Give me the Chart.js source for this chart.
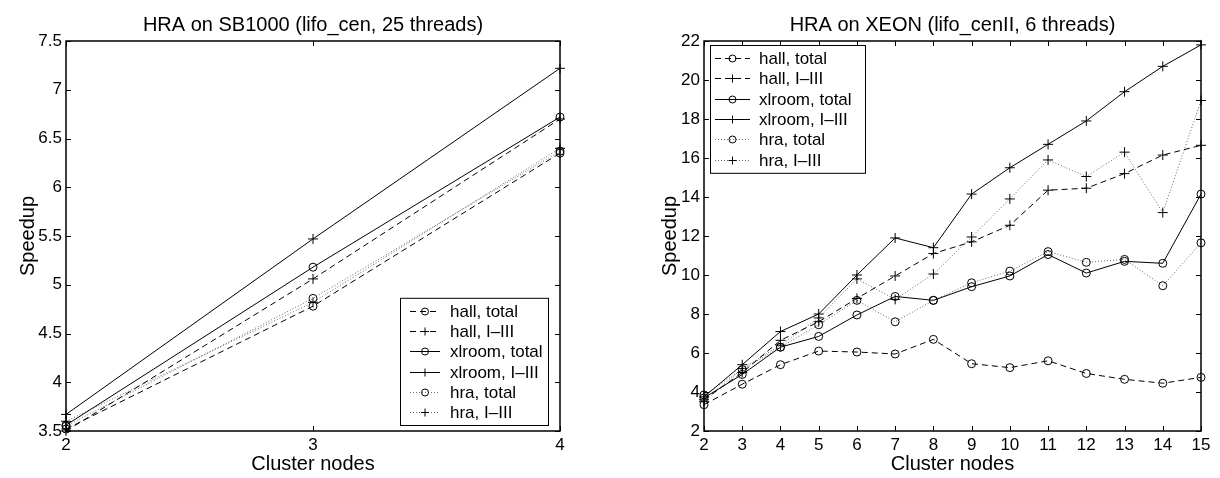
<!DOCTYPE html>
<html>
<head>
<meta charset="utf-8">
<script src="https://cdn.jsdelivr.net/npm/chart.js@4/dist/chart.umd.min.js"></script>
<style>
  body { margin: 0; background: #fff; }
  #wrap { position: relative; width: 1220px; height: 478px; }
  canvas { position: absolute; top: 0; }
</style>
</head>
<body>
<div id="wrap">
  <canvas id="sb" width="620" height="478" style="left:0;width:620px;height:478px"></canvas>
  <canvas id="xeon" width="600" height="478" style="left:620px;width:600px;height:478px"></canvas>
</div>
<script>
// legend labels, same order in both plots
const seriesNames = ['hall, total', 'hall, I\u2013III', 'xlroom, total', 'xlroom, I\u2013III', 'hra, total', 'hra, I\u2013III'];

// SB1000, 25 threads
const sbNodes = [2, 3, 4];
const sbHallTotal = [3.52, 4.78, 6.35];
const sbHallI = [3.50, 5.06, 6.70];
const sbXlTotal = [3.56, 5.18, 6.72];
const sbXlI = [3.67, 5.47, 7.22];
const sbHraTotal = [3.55, 4.86, 6.37];
const sbHraI = [3.60, 4.82, 6.40];
const sbYTicks = [3.5, 7.5, 0.5]; // min, max, step

// XEON, 6 threads
const xeonNodes = [2, 3, 4, 5, 6, 7, 8, 9, 10, 11, 12, 13, 14, 15];
const xeonHallTotal = [3.35, 4.4, 5.4, 6.1, 6.05, 5.95, 6.7, 5.45, 5.25, 5.6, 4.95, 4.65, 4.45, 4.75];
const xeonHallI = [3.6, 5.0, 6.65, 7.6, 8.8, 9.95, 11.1, 11.7, 12.55, 14.35, 14.45, 15.2, 16.15, 16.65];
const xeonXlTotal = [3.7, 4.9, 6.3, 6.85, 7.95, 8.9, 8.7, 9.4, 9.95, 11.05, 10.1, 10.7, 10.6, 14.15];
const xeonXlI = [3.75, 5.4, 7.1, 8.0, 10.0, 11.9, 11.4, 14.15, 15.5, 16.7, 17.9, 19.4, 20.7, 21.8];
const xeonHraTotal = [3.85, 5.15, 6.3, 7.45, 8.7, 7.6, 8.7, 9.6, 10.2, 11.2, 10.65, 10.8, 9.45, 11.65];
const xeonHraI = [3.5, 5.2, 6.4, 7.8, 9.8, 8.75, 10.05, 11.95, 13.9, 15.9, 15.05, 16.3, 13.2, 18.95];
const xeonYTicks = [2, 22, 2];

const FONT = "'Liberation Sans', Arial, Helvetica, sans-serif";
Chart.defaults.font.family = FONT;
Chart.defaults.color = '#000';

// line style per series: dashed / solid / dotted, circle or plus marker
const looks = [
    { dash: [6, 4], color: '#000', point: 'circle' },
    { dash: [6, 4], color: '#000', point: 'cross' },
    { dash: [], color: '#000', point: 'circle' },
    { dash: [], color: '#000', point: 'cross' },
    { dash: [1, 2], color: '#666', point: 'circle' },
    { dash: [1, 2], color: '#666', point: 'cross' }
];

function makeDatasets(nodes, lists) {
    return lists.map((vals, i) => ({
        label: seriesNames[i],
        data: vals.map((v, k) => ({ x: nodes[k], y: v })),
        borderColor: looks[i].color,
        borderDash: looks[i].dash,
        borderWidth: 1,
        pointStyle: looks[i].point,
        pointRadius: looks[i].point === 'cross' ? 5 : 4,
        pointBorderColor: '#000',
        pointBackgroundColor: 'rgba(0,0,0,0)',
        pointBorderWidth: 1,
        tension: 0,
        fill: false,
        clip: false
    }));
}

// matlab-like frame with inward ticks on all four sides
const frameTicks = {
    id: 'frameTicks',
    afterDatasetsDraw(chart) {
        const { ctx, chartArea: a, scales } = chart;
        const len = 5;
        ctx.save();
        ctx.strokeStyle = '#000';
        ctx.lineWidth = 1;
        ctx.setLineDash([]);
        ctx.beginPath();
        scales.x.ticks.forEach(t => {
            const px = Math.round(scales.x.getPixelForValue(t.value)) + 0.5;
            ctx.moveTo(px, a.bottom); ctx.lineTo(px, a.bottom - len);
            ctx.moveTo(px, a.top); ctx.lineTo(px, a.top + len);
        });
        scales.y.ticks.forEach(t => {
            const py = Math.round(scales.y.getPixelForValue(t.value)) + 0.5;
            ctx.moveTo(a.left, py); ctx.lineTo(a.left + len, py);
            ctx.moveTo(a.right, py); ctx.lineTo(a.right - len, py);
        });
        ctx.stroke();
        ctx.lineWidth = 1.5;
        ctx.strokeRect(a.left, a.top, a.right - a.left, a.bottom - a.top);
        ctx.restore();
    }
};

// boxed legend inside the plot, line sample + marker like matlab
const boxLegend = {
    id: 'boxLegend',
    afterDraw(chart, args, opts) {
        const { ctx, chartArea: a } = chart;
        const w = opts.width, h = opts.rowH * chart.data.datasets.length + 6;
        const x0 = opts.anchor === 'tl' ? a.left + opts.dx : a.right - opts.dx - w;
        const y0 = opts.anchor === 'tl' ? a.top + opts.dy : a.bottom - opts.dy - h;
        ctx.save();
        ctx.fillStyle = '#fff';
        ctx.fillRect(x0, y0, w, h);
        ctx.strokeStyle = '#000';
        ctx.lineWidth = 1;
        ctx.strokeRect(x0 + 0.5, y0 + 0.5, w, h);
        ctx.textBaseline = 'middle';
        chart.data.datasets.forEach((ds, i) => {
            const cy = Math.round(y0 + 3 + opts.rowH * (i + 0.5)) + 0.5;
            const sx = x0 + opts.sampleX;
            ctx.strokeStyle = ds.borderColor;
            ctx.lineWidth = 1;
            ctx.setLineDash(ds.borderDash);
            ctx.beginPath();
            ctx.moveTo(sx, cy); ctx.lineTo(sx + opts.sampleW, cy);
            ctx.stroke();
            ctx.setLineDash([]);
            ctx.strokeStyle = '#000';
            ctx.fillStyle = 'rgba(0,0,0,0)';
            Chart.helpers.drawPoint(ctx, {
                pointStyle: ds.pointStyle, radius: ds.pointStyle === 'cross' ? 4 : 3.5,
                borderWidth: 1
            }, sx + opts.sampleW / 2, cy);
            ctx.fillStyle = '#000';
            ctx.font = '17px ' + FONT;
            ctx.fillText(ds.label, x0 + opts.textX, cy + 1);
        });
        ctx.restore();
    }
};

function makeChart(id, nodes, lists, yTicks, title, layout, legendOpts) {
    const ctx = document.getElementById(id).getContext('2d');
    return new Chart(ctx, {
        type: 'line',
        data: { datasets: makeDatasets(nodes, lists) },
        options: {
            responsive: false,
            animation: false,
            layout: { padding: layout.padding },
            plugins: {
                legend: { display: false },
                tooltip: { enabled: false },
                title: {
                    display: true, text: title, fullSize: false,
                    font: { size: 20, weight: 'normal' }, color: '#000',
                    padding: { top: 7, bottom: 4 }
                },
                boxLegend: legendOpts
            },
            scales: {
                x: {
                    type: 'linear',
                    min: nodes[0], max: nodes[nodes.length - 1],
                    ticks: { stepSize: 1, font: { size: 17 }, padding: 4, color: '#000' },
                    grid: { display: false, drawTicks: false },
                    border: { display: false },
                    title: { display: true, text: 'Cluster nodes', font: { size: 20 }, padding: 0, color: '#000' },
                    afterFit(s) { s.height = layout.xH; }
                },
                y: {
                    min: yTicks[0], max: yTicks[1],
                    ticks: {
                        stepSize: yTicks[2], font: { size: 17 }, padding: 4, color: '#000',
                        callback: v => String(+v.toFixed(2))
                    },
                    grid: { display: false, drawTicks: false },
                    border: { display: false },
                    title: { display: true, text: 'Speedup', font: { size: 20 }, padding: 0, color: '#000' },
                    afterFit(s) { s.width = layout.yW; }
                }
            }
        },
        plugins: [frameTicks, boxLegend]
    });
}

makeChart('sb', sbNodes, [sbHallTotal, sbHallI, sbXlTotal, sbXlI, sbHraTotal, sbHraI], sbYTicks,
    'HRA on SB1000 (lifo_cen, 25 threads)',
    { padding: { left: 16, right: 60, top: 6, bottom: 2 }, yW: 50, xH: 45 },
    { anchor: 'br', dx: 12, dy: 6, width: 148, rowH: 20.2, sampleX: 10, sampleW: 30, textX: 50 });

makeChart('xeon', xeonNodes, [xeonHallTotal, xeonHallI, xeonXlTotal, xeonXlI, xeonHraTotal, xeonHraI], xeonYTicks,
    'HRA on XEON (lifo_cenII, 6 threads)',
    { padding: { left: 38, right: 19, top: 6, bottom: 2 }, yW: 46, xH: 45 },
    { anchor: 'tl', dx: 6, dy: 4, width: 155, rowH: 20.3, sampleX: 5, sampleW: 35, textX: 49 });
</script>
</body>
</html>
